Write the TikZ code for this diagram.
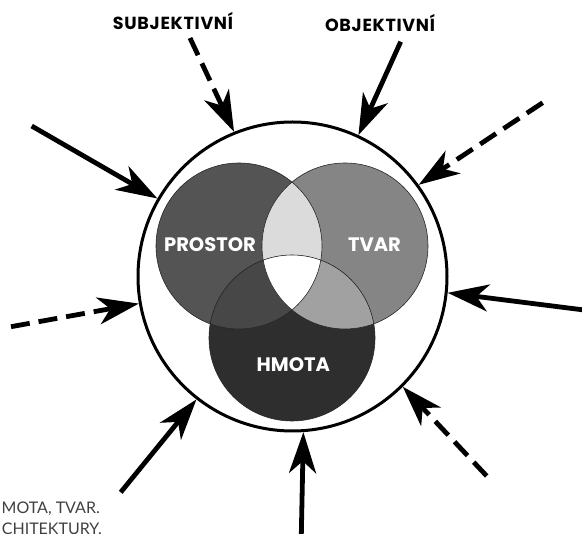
\documentclass[tikz,border=0pt]{standalone}
\usepackage{fontspec}
\setmainfont{Poppins}
\newfontfamily\notefont{Lato}
\newfontfamily\topfont[LetterSpace=4]{Poppins}
\usetikzlibrary{arrows.meta}
\definecolor{cP}{gray}{0.33}
\definecolor{cT}{gray}{0.52}
\definecolor{cH}{gray}{0.18}
\definecolor{cPT}{gray}{0.86}
\definecolor{cPH}{gray}{0.28}
\definecolor{cTH}{gray}{0.63}
\definecolor{cEdge}{gray}{0.15}
\definecolor{cNote}{gray}{0.25}
\begin{document}
\begin{tikzpicture}[x=1pt,y=-1pt,
  arr/.style={line width=4.8pt, -{Stealth[length=41pt,width=27pt,inset=12pt]}},
  dsh/.style={arr, dash pattern=on 19pt off 9pt},
  lab/.style={anchor=base, font=\topfont\bfseries\fontsize{17.5}{20}\selectfont, text=black, inner sep=0pt},
  inlab/.style={anchor=base, font=\bfseries\fontsize{19.5}{23}\selectfont, text=white, inner sep=0pt},
  note/.style={anchor=base east, font=\notefont\fontsize{16}{20}\selectfont, text=cNote, inner sep=0pt},
  ring/.style={circle, draw=black, line width=3pt, minimum size=309pt, inner sep=0pt},
  edge/.style={draw=cEdge, line width=0.6pt}]
\useasboundingbox (0,0) rectangle (582,534);
\fill[white] (0,0) rectangle (582,534);

% outer ring
\node[ring] (C) at (292.5,276.5) {};

% Venn regions
\fill[cP] (239,246) circle (83pt);
\fill[cT] (345,246) circle (83pt);
\fill[cH] (292,338) circle (83pt);
\begin{scope}\clip (239,246) circle (83pt); \fill[cPT] (345,246) circle (83pt);\end{scope}
\begin{scope}\clip (239,246) circle (83pt); \fill[cPH] (292,338) circle (83pt);\end{scope}
\begin{scope}\clip (345,246) circle (83pt); \fill[cTH] (292,338) circle (83pt);\end{scope}
\begin{scope}\clip (239,246) circle (83pt); \clip (345,246) circle (83pt); \fill[white] (292,338) circle (83pt);\end{scope}
\path[edge] (239,246) circle (83pt);
\path[edge] (345,246) circle (83pt);
\path[edge] (292,338) circle (83pt);

% inner labels
\node[inlab] (prostor) at (210,252) {PROSTOR};
\node[inlab] (tvar) at (374.5,252) {TVAR};
\node[inlab] (hmota) at (293.3,371.5) {HMOTA};

% top labels
\node[lab] (subj) at (173,30) {SUBJEKTIVNÍ};
\node[lab] (obj) at (380,32) {OBJEKTIVNÍ};

% arrow tails
\coordinate (t1) at (190,38);
\coordinate (t2) at (400.7,41.7);
\coordinate (t3) at (542.7,102.7);
\coordinate (t4) at (600,312);
\coordinate (t5) at (486.7,476);
\coordinate (t6) at (301,550);
\coordinate (t7) at (120.7,492.3);
\coordinate (t8) at (11,326.7);
\coordinate (t9) at (31.7,126);

\draw[dsh] (t1) -- (C.112.5);
\draw[arr] (t2) -- (C.65.8);
\draw[dsh] (t3) -- (C.36.5);
\draw[arr] (t4) -- (C.-6.5);
\draw[dsh] (t5) -- (C.-45.7);
\draw[arr] (t6) -- (C.-86.9);
\draw[arr] (t7) -- (C.-128.4);
\draw[dsh] (t8) -- (C.-170.7);
\draw[arr] (t9) -- (C.150.1);

% cropped note text
\node[note] (n1) at (100,513.5) {MOTA, TVAR.};
\node[note] (n2) at (102,535) {CHITEKTURY.};
\end{tikzpicture}
\end{document}
